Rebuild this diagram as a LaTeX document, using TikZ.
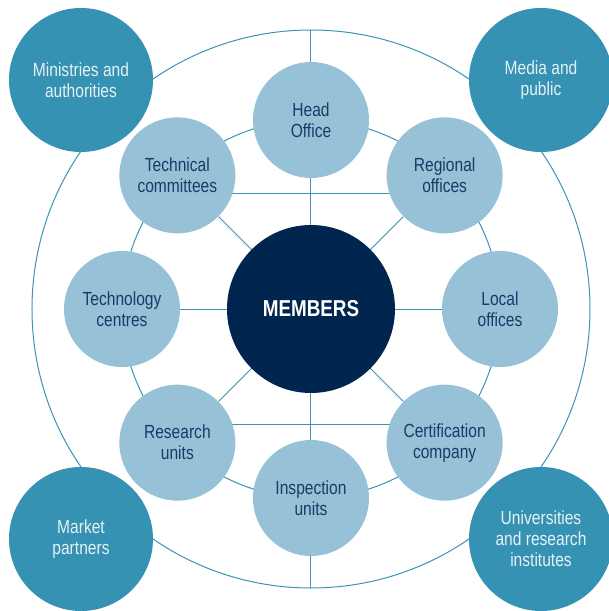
\documentclass[tikz,border=0pt]{standalone}
\usepackage{fontspec}
\setmainfont[FakeStretch=0.82]{Liberation Sans}
\usetikzlibrary{backgrounds}
\definecolor{membernavy}{HTML}{00264F}
\definecolor{cornerteal}{HTML}{3592B2}
\definecolor{unitblue}{HTML}{96C1D6}
\definecolor{linkblue}{HTML}{3D93B5}
\definecolor{labelnavy}{HTML}{1B3A68}
\definecolor{paletext}{HTML}{E6F1F6}

\begin{document}
\begin{tikzpicture}[x=1pt,y=1pt,
    unit/.style={circle,fill=unitblue,minimum size=116pt,inner sep=0pt,align=center,
        text=labelnavy,font=\fontsize{19}{21}\selectfont},
    partner/.style={circle,fill=cornerteal,minimum size=144pt,inner sep=0pt,align=center,
        text=paletext,font=\fontsize{19}{21}\selectfont},
    link/.style={draw=linkblue,line width=1pt}]
        \useasboundingbox (-311,-302) rectangle (298,309);
        % centre
        \node[circle,fill=membernavy,minimum size=168pt,inner sep=0pt,text=white,
            font=\bfseries\fontsize{23}{26}\selectfont] (members) at (0,0) {MEMBERS};
        % inner ring
        \node[unit] (head) at (90:189pt) {Head\\Office};
        \node[unit] (regional) at (45:189pt) {Regional\\offices};
        \node[unit] (local) at (0:189pt) {Local\\offices};
        \node[unit] (certif) at (-45:189pt) {Certification\\company};
        \node[unit] (inspect) at (-90:189pt) {Inspection\\units};
        \node[unit] (research) at (-135:189pt) {Research\\units};
        \node[unit] (techcen) at (180:189pt) {Technology\\centres};
        \node[unit] (techcom) at (135:189pt) {Technical\\committees};
        % corners
        \node[partner] (ministries) at (-230,229) {Ministries and\\authorities};
        \node[partner] (media) at (230,229) {Media and\\public};
        \node[partner] (market) at (-230,-230) {Market\\partners};
        \node[partner] (univ) at (230,-230) {Universities\\and research\\institutes};
        \coordinate (top) at (0,279);
        \coordinate (bottom) at (0,-279);
        \begin{scope}[on background layer]
            \draw[link] (0,0) circle (279pt);
            \draw[link] (0,0) circle (189pt);
            \draw[link] (top) -- (bottom);
            \draw[link] (techcen) -- (local);
            \draw[link] (techcom) -- (certif);
            \draw[link] (regional) -- (research);
            \draw[link] ([yshift=-18pt]techcom.center) -- ([yshift=-18pt]regional.center);
            \draw[link] ([yshift=18pt]research.center) -- ([yshift=18pt]certif.center);
        \end{scope}
    \end{tikzpicture}
\end{document}
